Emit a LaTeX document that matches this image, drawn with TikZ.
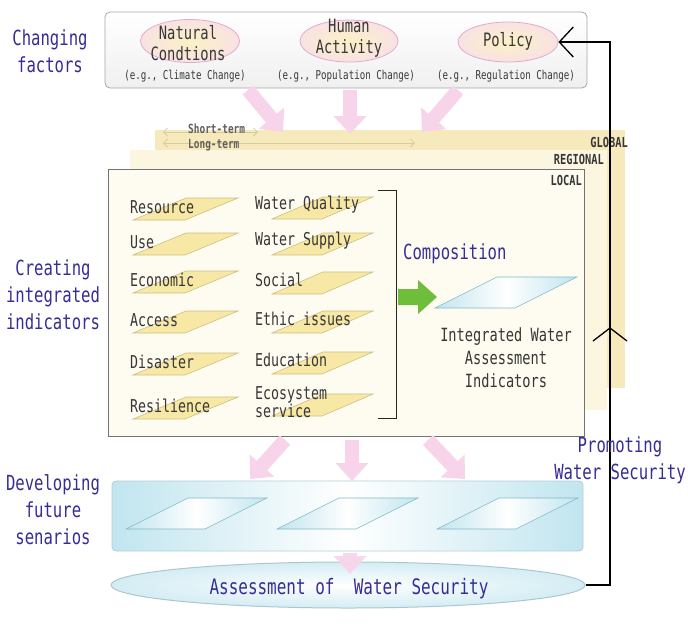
\documentclass[tikz,border=0pt]{standalone}
\usepackage{fontspec}
\newfontfamily\gf[FakeStretch=0.75]{DejaVu Sans Mono}
\usetikzlibrary{arrows.meta,shapes.geometric}
\definecolor{lblue}{RGB}{55,45,150}
\definecolor{txtgray}{RGB}{55,55,55}
\definecolor{globalc}{RGB}{246,234,188}
\definecolor{regionc}{RGB}{252,246,224}
\definecolor{localc}{RGB}{254,252,240}
\definecolor{parfill}{RGB}{247,232,166}
\definecolor{pardraw}{RGB}{205,190,130}
\definecolor{pinkar}{RGB}{248,212,234}
\definecolor{ellfill}{RGB}{252,241,196}
\definecolor{ellout}{RGB}{248,226,228}
\definecolor{elldraw}{RGB}{228,170,205}
\definecolor{skyb}{RGB}{193,229,239}
\definecolor{skyd}{RGB}{130,185,200}
\definecolor{greenar}{RGB}{110,190,60}
\definecolor{termc}{RGB}{215,205,160}
\tikzset{
  side/.style={font=\gf\fontsize{20.8}{27}\selectfont, text=lblue, align=center, inner sep=0},
  elltxt/.style={font=\gf\fontsize{18.4}{21}\selectfont, text=txtgray, align=center, inner sep=0},
  eg/.style={font=\gf\fontsize{12.2}{13}\selectfont, text=txtgray, inner sep=0},
  ind/.style={font=\gf\fontsize{17.7}{15}\selectfont, text=txtgray, anchor=west, inner sep=0, align=left},
  lvl/.style={font=\gf\bfseries\fontsize{13.8}{13}\selectfont, text=txtgray, anchor=east, inner sep=0},
  term/.style={font=\gf\bfseries\fontsize{12.6}{12}\selectfont, text=txtgray!80, anchor=west, inner sep=0},
  factor/.style={ellipse, draw=elldraw, line width=0.8pt, inner color=ellfill, outer color=ellout, inner sep=0},
  pinkarrow/.style={draw=pinkar, line width=14pt, -{Triangle[length=18pt,width=32pt]}},
  ypar/.style={fill=parfill, draw=pardraw, line width=0.6pt},
  bpar/.style={draw=skyd, line width=0.6pt, left color=skyb, right color=skyb, middle color=white},
  termarrow/.style={draw=termc, line width=0.8pt, {Straight Barb[length=4pt,width=8pt]}-{Straight Barb[length=4pt,width=8pt]}},
}
\begin{document}
\begin{tikzpicture}[x=1pt,y=-1pt]
\useasboundingbox (0,0) rectangle (688,630);
\fill[white] (0,0) rectangle (688,630);

% side labels
\node[side] (lab1) at (50,51) {Changing\\factors};
\node[side] (lab2) at (53,295) {Creating\\integrated\\indicators};
\node[side] (lab3) at (53,510) {Developing\\future\\senarios};

% level bands
\fill[globalc] (155,130) rectangle (625,388);
\fill[regionc] (130,150) rectangle (607,410);
\node[lvl] (glob) at (628,142) {GLOBAL};
\node[lvl] (regi) at (604,159) {REGIONAL};

% time-scale arrows
\coordinate (st1) at (163,132);
\coordinate (st2) at (258,132);
\coordinate (lt1) at (163,143);
\coordinate (lt2) at (415,143);
\draw[termarrow] (st1) -- (st2);
\draw[termarrow] (lt1) -- (lt2);
\node[term] (stt) at (188,129) {Short-term};
\node[term] (ltt) at (188,145) {Long-term};

% local box
\node[draw=gray!90!black, line width=0.9pt, fill=localc, minimum width=476pt, minimum height=267pt, inner sep=0] (local) at (346.5,302.5) {};
\node[lvl] (loca) at (582,180) {LOCAL};

% top box
\node[draw=gray!70, line width=0.8pt, rounded corners=5pt, minimum width=482pt, minimum height=76pt, inner sep=0,
      top color=white, bottom color=gray!12] (top) at (346,50) {};
\node[factor, minimum width=99pt, minimum height=43pt] (nat) at (190,41) {};
\node[factor, minimum width=98pt, minimum height=42pt] (hum) at (349,41) {};
\node[factor, minimum width=100pt, minimum height=40pt] (pol) at (508,42) {};
\node[elltxt] (natt) at (188,43) {Natural\\Condtions};
\node[elltxt] (humt) at (349,38) {Human\\Activity};
\node[elltxt] (polt) at (508,41) {Policy};
\node[eg] (eg1) at (185,76) {(e.g., Climate Change)};
\node[eg] (eg2) at (346,76) {(e.g., Population Change)};
\node[eg] (eg3) at (506,76) {(e.g., Regulation Change)};

% pink arrows top
\coordinate (pa1) at (248,90); \coordinate (pb1) at (283,132);
\coordinate (pa2) at (350,90); \coordinate (pb2) at (350,134);
\coordinate (pa3) at (458,90); \coordinate (pb3) at (422,132);
\draw[pinkarrow] (pa1) -- (pb1);
\draw[pinkarrow] (pa2) -- (pb2);
\draw[pinkarrow] (pa3) -- (pb3);

% indicators
\foreach \y/\t [count=\i] in {207/Resource,242/Use,280/Economic,320/Access,362/Disaster,406/Resilience}{
  \draw[ypar] (133,\y+13) -- (185,\y+13) -- (238,\y-9) -- (186,\y-9) -- cycle;
  \node[ind] (L\i) at (130,\y) {\t};
}
\foreach \y/\t [count=\i] in {205/Water Quality,241/Water Supply,280/Social,319/Ethic issues,360/Education}{
  \draw[ypar] (272,\y+14) -- (322,\y+14) -- (373,\y-8) -- (323,\y-8) -- cycle;
  \node[ind] (R\i) at (255,\y) {\t};
}
\draw[ypar] (272,416) -- (322,416) -- (373,394) -- (323,394) -- cycle;
\node[ind] (R6) at (255,402) {Ecosystem\\service};

% bracket
\draw[gray!30!black, line width=0.9pt] (378,190) -- (396,190) -- (396,418) -- (378,418);

% composition
\node[font=\gf\fontsize{20.8}{22}\selectfont, text=lblue, inner sep=0, anchor=west] (comp) at (403,254) {Composition};
\fill[greenar] (398,289) -- (418,289) -- (418,280) -- (437,297) -- (418,314) -- (418,305) -- (398,305) -- cycle;
\draw[bpar] (435,308) -- (515,308) -- (577,277) -- (497,277) -- cycle;
\node[font=\gf\fontsize{18.2}{23}\selectfont, text=txtgray, align=center, inner sep=0] (iwai) at (506,358) {Integrated Water\\Assessment\\Indicators};

% pink arrows middle
\coordinate (ma1) at (285,440); \coordinate (mb1) at (250,479);
\coordinate (ma2) at (352,440); \coordinate (mb2) at (352,481);
\coordinate (ma3) at (428,440); \coordinate (mb3) at (465,479);
\draw[pinkarrow] (ma1) -- (mb1);
\draw[pinkarrow] (ma2) -- (mb2);
\draw[pinkarrow] (ma3) -- (mb3);

% scenarios band
\node[draw=skyb!80!gray, line width=0.8pt, rounded corners=4pt, minimum width=471pt, minimum height=70pt, inner sep=0,
      left color=skyb, right color=skyb, middle color=white] (scen) at (347.5,516) {};
\draw[bpar] (126,529) -- (205,529) -- (267,498) -- (188,498) -- cycle;
\draw[bpar] (277,529) -- (356,529) -- (418,498) -- (339,498) -- cycle;
\draw[bpar] (437,529) -- (516,529) -- (578,498) -- (499,498) -- cycle;

% bottom ellipse and arrow
\node[ellipse, draw=skyb!70!gray, line width=1pt, inner sep=0, minimum width=474pt, minimum height=46pt,
      inner color=white, outer color=skyb!70] (assess) at (348,585) {};
\coordinate (ba) at (350,553); \coordinate (bb) at (350,574);
\draw[pinkarrow, opacity=0.9] (ba) -- (bb);
\node[font=\gf\fontsize{21.3}{22}\selectfont, text=lblue, inner sep=0] (asst) at (349,589) {Assessment of\ \ Water Security};

% feedback loop
\coordinate (fb1) at (610,585);
\draw[black, line width=1.3pt, -{Straight Barb[length=14pt,width=30pt]}] (assess.east) -- (fb1) |- (pol.east);
\draw[black, line width=1.3pt] (593,341) -- (610,328) -- (627,341);
\node[side] (prom) at (620,460) {Promoting\\Water Security};
\end{tikzpicture}
\end{document}
